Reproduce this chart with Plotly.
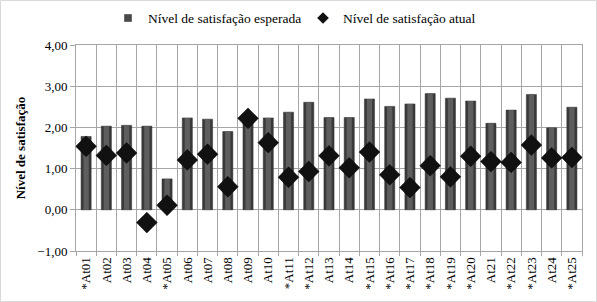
import plotly.graph_objects as go

categories = ["*At01", "At02", "At03", "At04", "*At05", "At06", "At07", "At08", "At09", "At10",
              "*At11", "*At12", "At13", "At14", "*At15", "*At16", "*At17", "*At18", "*At19", "*At20",
              "At21", "*At22", "*At23", "At24", "*At25"]
esperada = [1.78, 2.03, 2.05, 2.03, 0.75, 2.23, 2.20, 1.90, 2.25, 2.23,
            2.37, 2.61, 2.24, 2.24, 2.69, 2.51, 2.57, 2.82, 2.71, 2.64,
            2.10, 2.42, 2.80, 1.99, 2.49]
atual = [1.54, 1.32, 1.38, -0.31, 0.11, 1.21, 1.35, 0.56, 2.22, 1.63,
         0.79, 0.93, 1.31, 1.02, 1.40, 0.85, 0.54, 1.07, 0.80, 1.30,
         1.17, 1.15, 1.57, 1.26, 1.27]
y_ticks = [-1, 0, 1, 2, 3, 4]

FONT = "Liberation Serif"
name_esp = "Nível de satisfação esperada"
name_atu = "Nível de satisfação atual"

fig = go.Figure()
fig.add_trace(go.Bar(
    x=categories, y=esperada, name=name_esp, showlegend=False,
    width=0.5, marker=dict(color="#3a3a3a", line=dict(color="#2e2e2e", width=0.5)),
))
fig.add_trace(go.Bar(
    x=categories, y=esperada, name="hl", showlegend=False,
    width=0.26, marker=dict(color="#5e5e5e", line=dict(width=0)),
    hoverinfo="skip",
))
fig.add_trace(go.Scatter(
    x=categories, y=atual, name=name_atu, mode="markers", showlegend=False,
    marker=dict(symbol="diamond", size=16, color="#111111",
                line=dict(color="#000000", width=0.5)),
))
# legend entries
fig.add_trace(go.Scatter(
    x=[None], y=[None], name=name_esp, mode="markers", legend="legend",
    marker=dict(symbol="square", size=7, color="#4a4a4a", line=dict(color="#2e2e2e", width=0.5)),
))
fig.add_trace(go.Scatter(
    x=[None], y=[None], name=name_atu, mode="markers", legend="legend2",
    marker=dict(symbol="diamond", size=9, color="#111111"),
))

leg_common = dict(orientation="h", xanchor="left", y=1.13, yanchor="middle",
                  font=dict(family=FONT, size=13.5), bgcolor="rgba(0,0,0,0)", itemwidth=30)

fig.update_layout(
    width=597, height=302,
    margin=dict(l=76, r=15, t=45, b=51, autoexpand=False),
    paper_bgcolor="white", plot_bgcolor="white",
    barmode="overlay",
    separators=",.",
    font=dict(family=FONT, size=13, color="black"),
    showlegend=True,
    legend=dict(x=(108 - 76) / 506, **leg_common),
    legend2=dict(x=(303 - 76) / 506, **leg_common),
    xaxis=dict(
        type="category", tickson="boundaries", showgrid=True, gridcolor="#a6a6a6", gridwidth=1,
        tickangle=-90, ticks="outside", ticklen=4, tickcolor="#a6a6a6",
        showline=True, linecolor="#a6a6a6", mirror=True, automargin=False,
        tickfont=dict(family=FONT, size=13), range=[-0.5, 24.5],
    ),
    yaxis=dict(
        range=[-1, 4], tickvals=y_ticks, tickformat=".2f",
        showgrid=True, gridcolor="#a6a6a6", gridwidth=1, zeroline=False,
        ticks="outside", ticklen=5, tickcolor="#a6a6a6",
        showline=True, linecolor="#a6a6a6", mirror=True, automargin=False,
        tickfont=dict(family=FONT, size=13),
        title=dict(text="<b>Nível de satisfação</b>", font=dict(family=FONT, size=13), standoff=8),
    ),
    shapes=[dict(type="rect", xref="paper", yref="paper",
                 x0=-75.5/506, x1=(596.5-76)/506, y0=-50.5/206, y1=(206+44.5)/206,
                 line=dict(color="#d9d9d9", width=1), fillcolor="rgba(0,0,0,0)", layer="below")],
)

fig.write_html("out.html", config={"displayModeBar": False},
               post_script="document.body.style.margin='0';")
